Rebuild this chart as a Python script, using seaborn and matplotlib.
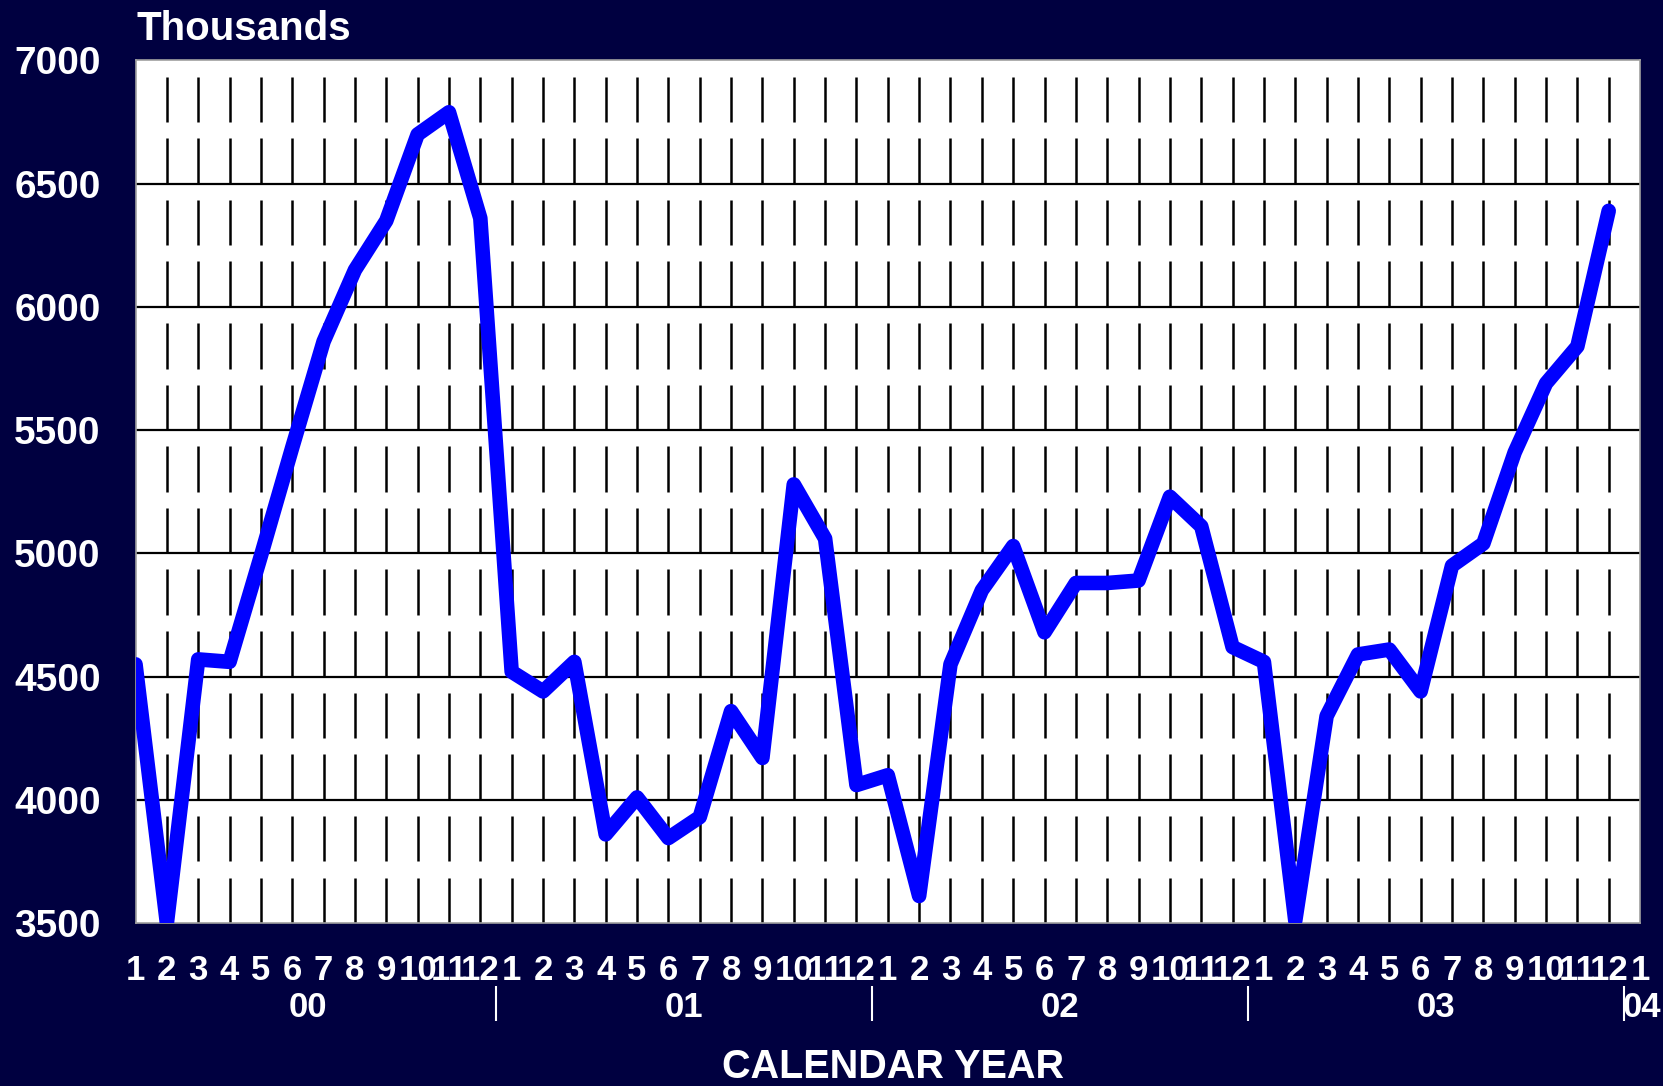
import matplotlib
matplotlib.use("Agg")
import matplotlib.pyplot as plt
import numpy as np
import pandas as pd
import seaborn as sns

# Monthly totals (thousands), Jan 2000 - Dec 2003
values_2000 = [4550, 3500, 4570, 4560, 4990, 5430, 5860, 6150, 6350, 6700, 6790, 6360]
values_2001 = [4520, 4440, 4560, 3860, 4010, 3845, 3930, 4360, 4170, 5280, 5060, 4060]
values_2002 = [4100, 3610, 4550, 4850, 5030, 4680, 4880, 4880, 4890, 5230, 5110, 4620]
values_2003 = [4560, 3510, 4340, 4590, 4610, 4440, 4950, 5040, 5410, 5690, 5840, 6390]

year_labels = ["00", "01", "02", "03", "04"]
month_labels = [str(m) for m in range(1, 13)] * 4 + ["1"]
y_ticks = [3500, 4000, 4500, 5000, 5500, 6000, 6500, 7000]

series = values_2000 + values_2001 + values_2002 + values_2003
df = pd.DataFrame({"month": np.arange(1, len(series) + 1), "value": series})

NAVY = "#000040"
BLUE = "#0000FF"

sns.set_theme(style="white")
plt.rcParams["font.family"] = ["Liberation Sans", "DejaVu Sans"]

fig = plt.figure(figsize=(16.63, 10.86), dpi=100, facecolor=NAVY)
ax = fig.add_axes([0.0815, 0.150, 0.9047, 0.7943])
ax.set_facecolor("white")

ax.set_xlim(1, 49)
ax.set_ylim(3500, 7000)

# horizontal gridlines
for yv in y_ticks[1:-1]:
    ax.axhline(yv, color="black", lw=1.6, zorder=1)

# vertical dashed month lines, one dash per quarter-thousand band
months_inner = np.arange(2, 49)
for lo in np.arange(3500, 7000, 250):
    ax.vlines(months_inner, lo, lo + 185, color="black", lw=1.8, zorder=1)

sns.lineplot(data=df, x="month", y="value", ax=ax, color=BLUE, lw=10.5,
             solid_joinstyle="round", solid_capstyle="round", zorder=3,
             errorbar=None)

ax.set_xlabel("")
ax.set_ylabel("")

ax.set_yticks(y_ticks)
ax.set_yticklabels([str(v) for v in y_ticks], fontsize=28, fontweight="bold", color="white")
ax.tick_params(axis="y", direction="in", length=14, width=2.5, color="black", pad=25)

ax.set_xticks(np.arange(1, 50))
ax.set_xticklabels(month_labels, fontsize=25, fontweight="bold", color="white")
ax.tick_params(axis="x", length=0, pad=22)

for s in ax.spines.values():
    s.set_color("#a0a0a0")
    s.set_linewidth(1.2)

# year labels and separators below the month labels
xt = ax.get_xaxis_transform()
for i, lab in enumerate(year_labels[:-1]):
    ax.text(6.5 + 12 * i, -0.098, lab, transform=xt, ha="center", va="center",
            fontsize=25, fontweight="bold", color="white")
ax.text(49.05, -0.098, year_labels[-1], transform=xt, ha="center", va="center",
        fontsize=25, fontweight="bold", color="white")
ax.vlines([12.5, 24.5, 36.5, 48.5], -0.113, -0.073, transform=xt, color="white",
          lw=1.5, clip_on=False)

fig.text(0.0818, 0.9735, "Thousands", ha="left", va="center", fontsize=29,
         fontweight="bold", color="white")
fig.text(0.537, 0.0175, "CALENDAR YEAR", ha="center", va="center", fontsize=28.5,
         fontweight="bold", color="white")

fig.savefig("out.png", dpi=100, facecolor=NAVY)
